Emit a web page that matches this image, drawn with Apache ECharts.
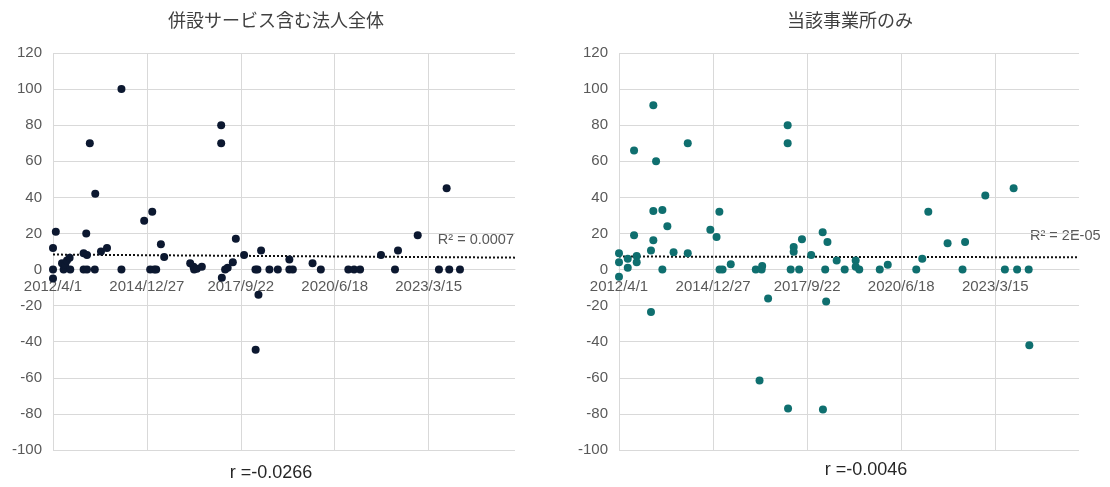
<!DOCTYPE html>
<html>
<head>
<meta charset="utf-8">
<script src="https://cdn.jsdelivr.net/npm/echarts@6/dist/echarts.min.js"></script>
<style>
  html, body { margin: 0; padding: 0; background: #ffffff; }
  #chart { width: 1110px; height: 487px; }
</style>
</head>
<body>
<div id="chart"></div>
<script>
// Dates are spreadsheet serial day numbers (day 0 = 1899-12-30).
// Left panel: whole corporation including attached services.
const groupDates = [
  41000, 41000, 41000, 41030, 41096, 41113, 41131, 41149, 41177, 41184,
  41326, 41326, 41354, 41362, 41362, 41392, 41445, 41450, 41511, 41575,
  41729, 41729, 41971, 42035, 42057, 42078, 42099, 42149, 42184, 42461,
  42496, 42503, 42532, 42585, 42791, 42791, 42798, 42833, 42860, 42915,
  42947, 43035, 43156, 43158, 43177, 43188, 43216, 43305, 43394, 43517,
  43517, 43554, 43764, 43852, 44145, 44206, 44270, 44493, 44642, 44674,
  44884, 45110, 45192, 45220, 45334
];
const groupValues = [
  12, 0, -5, 21, 3.5, 0, 2.5, 5, 6.5, 0,
  9, 0, 20, 8, 0, 70, 0, 42, 10, 12,
  100, 0, 27, 0, 32, 0, 0, 14, 7, 3.5,
  1.5, 0, 0.5, 1.5, 80, 70, -4.5, 0, 1, 4,
  17, 8, 0, -44.5, 0, -14, 10.5, 0, 0, 5.5,
  0, 0, 3.5, 0, 0, 0, 0, 8, 0, 10.5,
  19, 0, 45, 0, 0
];

// Right panel: this office only.
const siteDates = [
  41000, 41000, 41000, 41093, 41093, 41160, 41160, 41188, 41188, 41340,
  41340, 41365, 41365, 41365, 41394, 41461, 41461, 41514, 41580, 41731,
  41731, 41971, 42037, 42067, 42069, 42101, 42188, 42454, 42494, 42516,
  42522, 42585, 42793, 42793, 42797, 42825, 42857, 42857, 42915, 42945,
  43043, 43165, 43168, 43192, 43202, 43216, 43314, 43399, 43516, 43516,
  43554, 43772, 43857, 44160, 44224, 44288, 44493, 44652, 44679, 44894,
  45102, 45195, 45232, 45355, 45362
];
const siteValues = [
  9, 4, -4, 6, 1, 66, 19, 7.5, 4, 10.5,
  -23.5, 91, 32.5, 16.3, 60, 33, 0, 24, 9.6, 70,
  9, 22, 18, 32, 0, 0, 3, 0, -61.5, 0,
  2, -16, 80, 70, -77, 0, 12.5, 9.8, 0, 16.8,
  8, 20.7, -77.5, 0, -17.7, 15.2, 5, 0, 5, 1.5,
  0, 0, 2.7, 0, 6, 32, 14.6, 0, 15.2, 41,
  0, 45, 0, 0, -42
];

// Linear trend line, value at the start and end of the date axis.
const groupTrend = [8.3, 6.6];
const siteTrend = [7.2, 6.8];

const panelTitles = ['併設サービス含む法人全体', '当該事業所のみ'];
const rLabels = ['r =-0.0266', 'r =-0.0046'];
const r2Labels = ['R² = 0.0007', 'R² = 2E-05'];

// Axis ranges
const dateMin = 41000;
const dateMax = [45920, 45890];
const dateStep = 1000;
const yMin = -100, yMax = 120, yStep = 20;

const numFont = '"Liberation Sans", Arial, sans-serif';
const jpFont = '"Noto Sans CJK JP", sans-serif';
const gridColor = '#d9d9d9';
const labelColor = '#595959';

function serialToLabel(v) {
  const d = new Date(Date.UTC(1899, 11, 30) + Math.round(v) * 86400000);
  return d.getUTCFullYear() + '/' + (d.getUTCMonth() + 1) + '/' + d.getUTCDate();
}

function pairs(xs, ys) {
  return xs.map((x, i) => [x, ys[i]]);
}

const grids = [
  { left: 53, top: 53, width: 462, height: 397 },
  { left: 619, top: 53, width: 460, height: 397 }
];

// The date axis crosses the value axis at 0: shift it up from the
// bottom edge of the plot by the distance from yMin to 0.
function zeroOffset(g) {
  return -g.height * (0 - yMin) / (yMax - yMin);
}

function makeXAxis(i) {
  return {
    type: 'value', gridIndex: i, position: 'bottom',
    offset: zeroOffset(grids[i]),
    min: dateMin, max: dateMax[i], interval: dateStep,
    axisLine: { show: true, onZero: false, lineStyle: { color: gridColor, width: 1 } },
    axisTick: { show: false },
    axisLabel: {
      formatter: serialToLabel, color: labelColor, fontSize: 15,
      fontFamily: numFont, margin: 10, showMaxLabel: false
    },
    splitLine: { show: true, showMaxLine: false, lineStyle: { color: gridColor, width: 1 } }
  };
}

function makeYAxis(i) {
  return {
    type: 'value', gridIndex: i,
    min: yMin, max: yMax, interval: yStep,
    axisLine: { show: false, onZero: false },
    axisTick: { show: false },
    axisLabel: { color: labelColor, fontSize: 15, fontFamily: numFont, margin: 11 },
    splitLine: { show: true, lineStyle: { color: gridColor, width: 1 } }
  };
}

function scatter(i, xs, ys, color) {
  return {
    type: 'scatter', xAxisIndex: i, yAxisIndex: i,
    data: pairs(xs, ys), symbolSize: 8, z: 3,
    itemStyle: { color: color, opacity: 1 },
    emphasis: { disabled: true }
  };
}

function trend(i, t) {
  return {
    type: 'line', xAxisIndex: i, yAxisIndex: i,
    data: [[dateMin, t[0]], [dateMax[i], t[1]]],
    symbol: 'none', z: 2, silent: true,
    lineStyle: { color: '#111111', width: 2, type: [2, 2] }
  };
}

function text(x, y, str, align, size, color, family) {
  return {
    type: 'text', x: x, y: y, silent: true,
    style: {
      text: str, fill: color, fontSize: size, fontFamily: family,
      align: align, verticalAlign: 'middle'
    }
  };
}

const chart = echarts.init(document.getElementById('chart'), null, { renderer: 'canvas' });
chart.setOption({
  animation: false,
  backgroundColor: '#ffffff',
  grid: grids,
  xAxis: [makeXAxis(0), makeXAxis(1)],
  yAxis: [makeYAxis(0), makeYAxis(1)],
  series: [
    scatter(0, groupDates, groupValues, '#0c1830'),
    trend(0, groupTrend),
    scatter(1, siteDates, siteValues, '#0f6f6f'),
    trend(1, siteTrend)
  ],
  graphic: [
    text(276, 20, panelTitles[0], 'center', 18, '#404040', jpFont),
    text(850, 20, panelTitles[1], 'center', 18, '#404040', jpFont),
    text(271, 473, rLabels[0], 'center', 18, '#262626', numFont),
    text(866, 470, rLabels[1], 'center', 18, '#262626', numFont),
    text(514, 240, r2Labels[0], 'right', 14.5, labelColor, numFont),
    text(1030, 236, r2Labels[1], 'left', 14.5, labelColor, numFont)
  ]
});
</script>
</body>
</html>
